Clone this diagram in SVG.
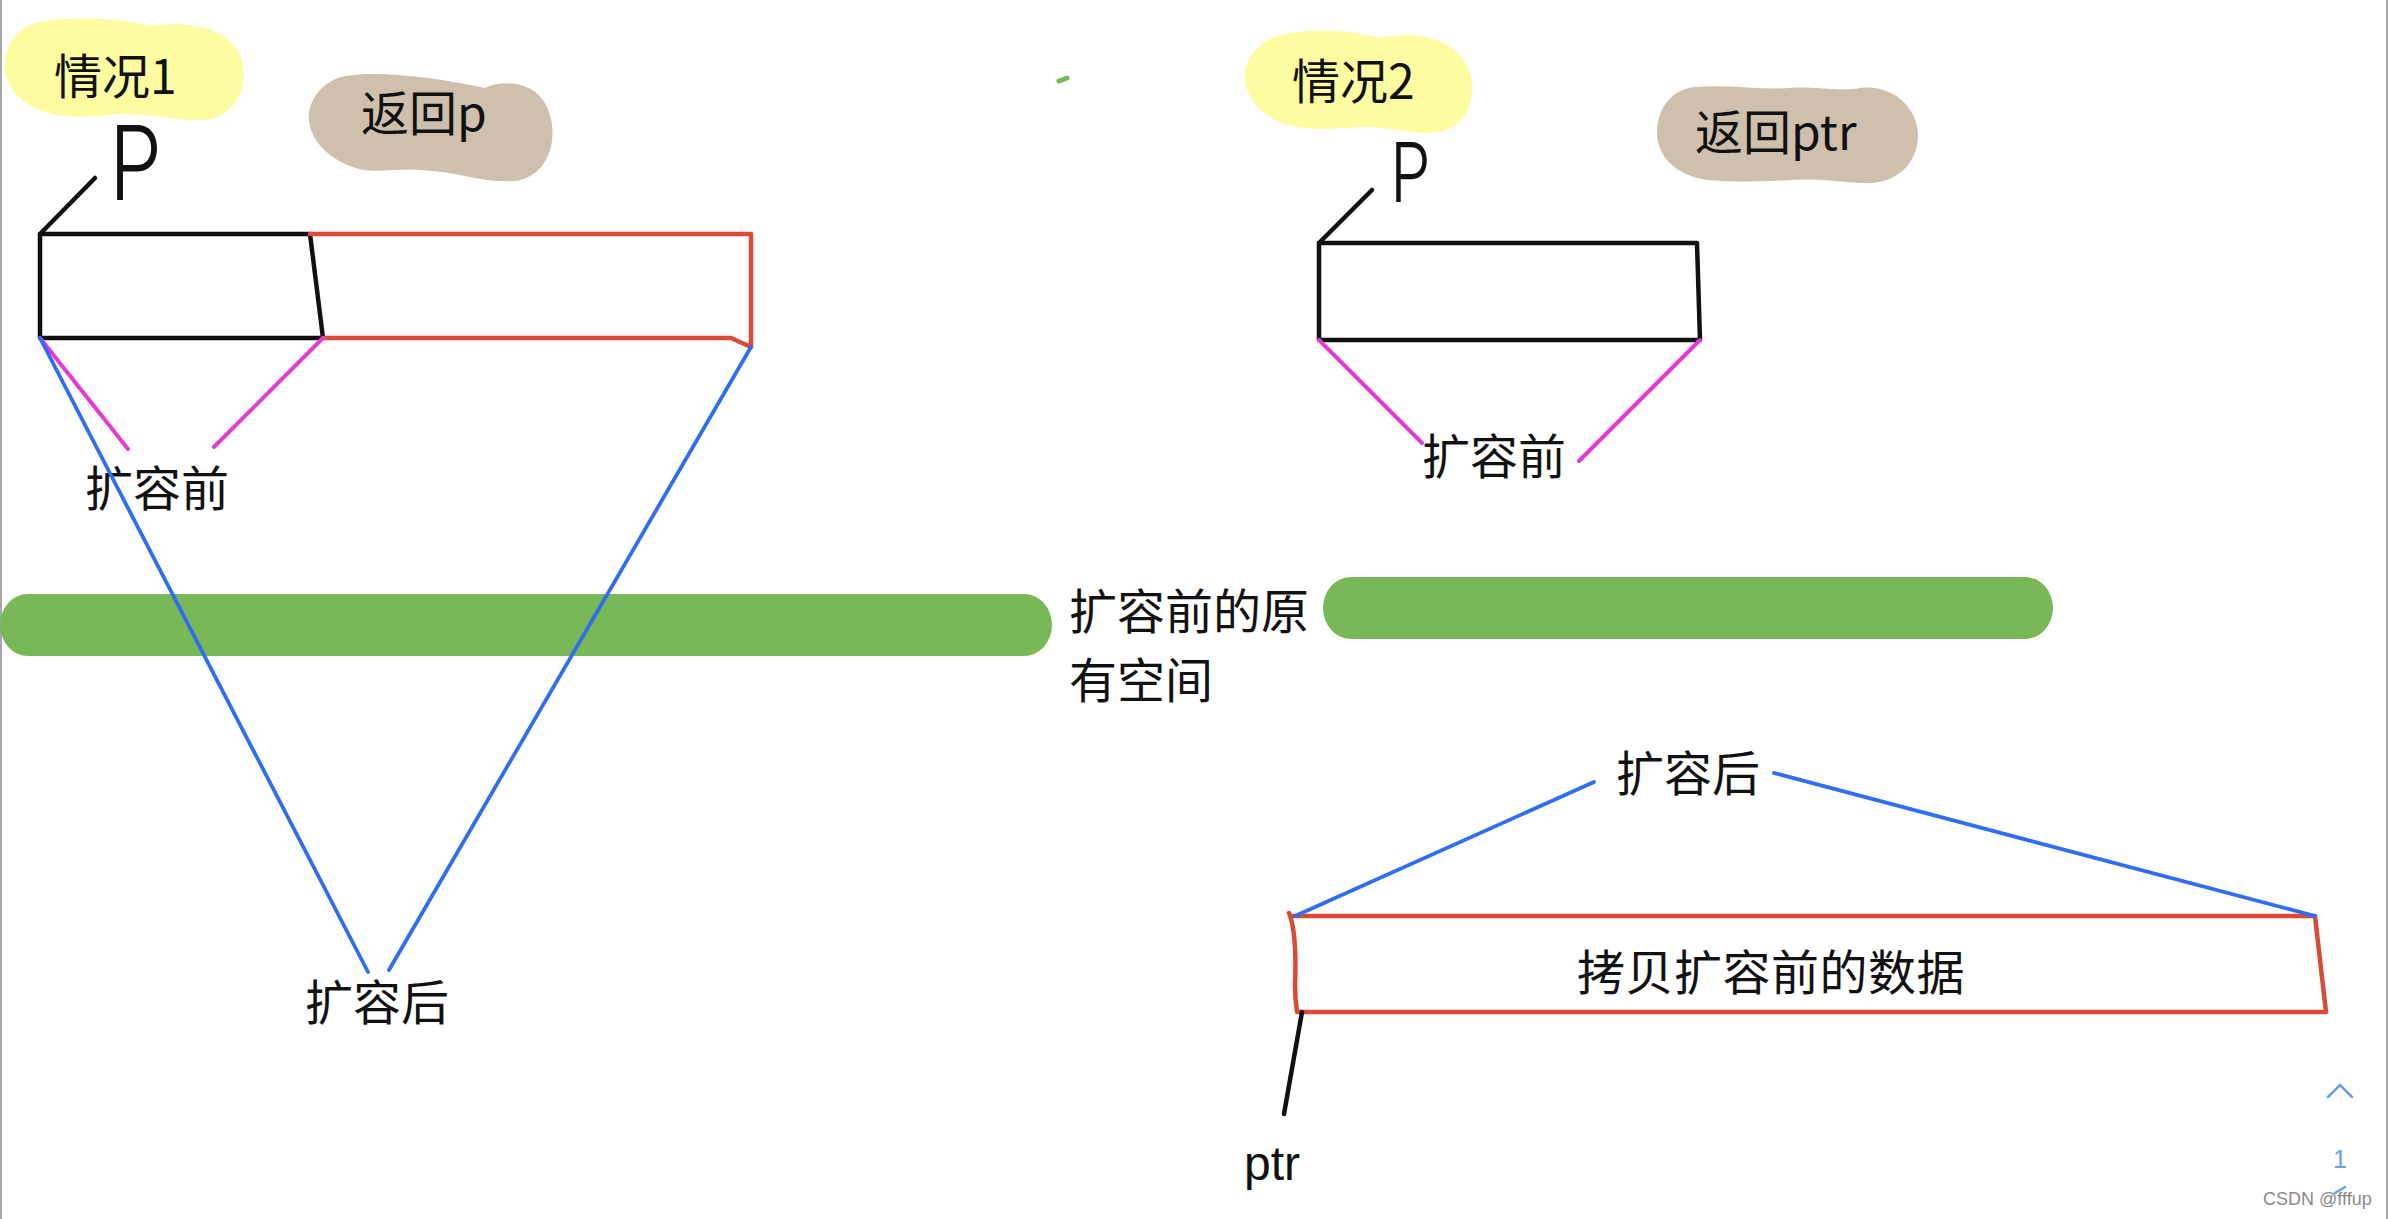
<svg xmlns="http://www.w3.org/2000/svg" width="2388" height="1219" viewBox="0 0 2388 1219">
<style>
.cjk{font-family:"Noto Sans CJK SC","Liberation Sans",sans-serif;font-size:48px;fill:#111}
.lat{font-family:"Liberation Sans",sans-serif;fill:#111}
.hand{font-family:Inter,"Liberation Sans",sans-serif;font-weight:330;fill:#111}
.blk{stroke:#111;stroke-width:4.5;fill:none;stroke-linecap:round;stroke-linejoin:round}
.red{stroke:#db4a36;stroke-width:4.5;fill:none;stroke-linecap:round;stroke-linejoin:round}
.blu{stroke:#2f6ef2;stroke-width:3.8;fill:none;stroke-linecap:round}
.mag{stroke:#e33bd4;stroke-width:4;fill:none;stroke-linecap:round}
.yel{fill:#fefca0}
.tan{fill:#cfc0ad}
.grn{fill:#78b856}
.ui{stroke:#6a9ee6;stroke-width:2.5;fill:none;stroke-linecap:round}
</style>
<rect width="2388" height="1219" fill="#fff"/>
<line x1="1" y1="0" x2="1" y2="1219" stroke="#8a8a8a" stroke-width="1.5"/>
<line x1="2387" y1="0" x2="2387" y2="1219" stroke="#8a8a8a" stroke-width="1.5"/>

<g id="bars">
<rect class="grn" x="0" y="594" width="1052" height="62" rx="28" ry="31"/>
<rect class="grn" x="1323" y="577" width="730" height="62" rx="28" ry="31"/>
<line x1="1059" y1="81" x2="1067" y2="78" stroke="#78b856" stroke-width="5" stroke-linecap="round"/>
</g>

<g id="case1-tag">
<path class="yel" d="M40,22 C70,16 120,18 150,26 C175,22 225,22 240,55 C252,85 235,120 200,120 C180,121 160,114 120,114 C95,116 70,120 45,112 C15,103 3,80 5,62 C7,40 20,26 40,22 Z"/>
<text class="cjk" x="54" y="94">情况1</text>
</g>
<g id="case1-return">
<path class="tan" d="M345,76 C380,70 440,78 485,88 C500,80 540,78 550,115 C560,150 540,185 505,181 C480,182 460,172 420,170 C395,168 370,175 350,166 C315,152 305,125 310,108 C315,90 330,79 345,76 Z"/>
<text class="cjk" x="361" y="131">返回p</text>
</g>
<g id="case2-tag">
<path class="yel" d="M1290,33 C1320,28 1360,32 1380,38 C1400,34 1440,30 1462,58 C1482,85 1472,125 1440,132 C1415,136 1395,126 1360,127 C1335,128 1310,132 1285,124 C1255,114 1243,90 1245,72 C1248,52 1265,37 1290,33 Z"/>
<text class="cjk" x="1292" y="99">情况2</text>
</g>
<g id="case2-return">
<path class="tan" d="M1695,87 C1730,84 1760,90 1790,88 C1815,86 1840,92 1860,88 C1895,84 1918,110 1918,135 C1918,165 1895,185 1862,183 C1840,182 1820,178 1790,180 C1760,182 1735,182 1708,180 C1675,176 1657,155 1657,133 C1657,108 1672,89 1695,87 Z"/>
<text class="cjk" x="1695" y="150">返回ptr</text>
</g>

<g id="case1-p">
<text class="hand" font-size="103" transform="translate(109,200) scale(0.82,1)">P</text>
</g>
<g id="case2-p">
<text class="hand" font-size="83" transform="translate(1390,202) scale(0.78,1)">P</text>
</g>

<g id="case1-old-block">
<path class="blk" d="M40,234 L310,234 L323,338 L40,338 Z"/>
</g>
<g id="case1-new-block">
<path class="red" d="M310,234 L751,234 L751,347 L731,338 L323,338"/>
</g>
<g id="case2-old-block">
<path class="blk" d="M1319,243 L1697,243 L1700,340 L1319,340 Z"/>
</g>
<g id="case2-new-block">
<path class="red" d="M2315,916 L1291,916 M1289,913 C1296,930 1296,960 1295,985 C1295,995 1296,1005 1297,1012 L2326,1012 L2315,916"/>
<text class="cjk" x="1577" y="990" letter-spacing="0.5">拷贝扩容前的数据</text>
</g>

<g id="labels">
<text class="cjk" x="85" y="506">扩容前</text>
<text class="cjk" x="305" y="1020">扩容后</text>
<text class="cjk" x="1069" y="629">扩容前的原</text>
<text class="cjk" x="1069" y="698">有空间</text>
<text class="cjk" x="1422" y="474">扩容前</text>
<text class="cjk" x="1616" y="791">扩容后</text>
<text class="lat" x="1244" y="1180" font-size="48">ptr</text>
</g>

<g id="connectors">
<line class="blk" x1="95" y1="178" x2="40" y2="234"/>
<line class="blk" x1="1372" y1="190" x2="1319" y2="243"/>
<line class="blk" x1="1302" y1="1012" x2="1284" y2="1114" stroke-width="3.5"/>
<line class="mag" x1="40" y1="338" x2="128" y2="449"/>
<line class="mag" x1="323" y1="338" x2="214" y2="447"/>
<line class="mag" x1="1319" y1="340" x2="1422" y2="443"/>
<line class="mag" x1="1700" y1="340" x2="1579" y2="461"/>
<line class="blu" x1="40" y1="338" x2="368" y2="972"/>
<line class="blu" x1="751" y1="347" x2="389" y2="970"/>
<line class="blu" x1="1594" y1="782" x2="1295" y2="916"/>
<line class="blu" x1="1774" y1="773" x2="2315" y2="916"/>
</g>

<g id="ui">
<polyline class="ui" points="2328,1097 2340,1085 2352,1097"/>
<text x="2340" y="1168" font-family="Liberation Sans,sans-serif" font-size="25" fill="#6a9ee6" text-anchor="middle">1</text>
<line class="ui" x1="2335" y1="1193" x2="2345" y2="1187" stroke-width="2"/>
<text x="2263" y="1205" font-family="Liberation Sans,sans-serif" font-size="18" fill="#8a8a8a">CSDN @fffup</text>
</g>
</svg>
